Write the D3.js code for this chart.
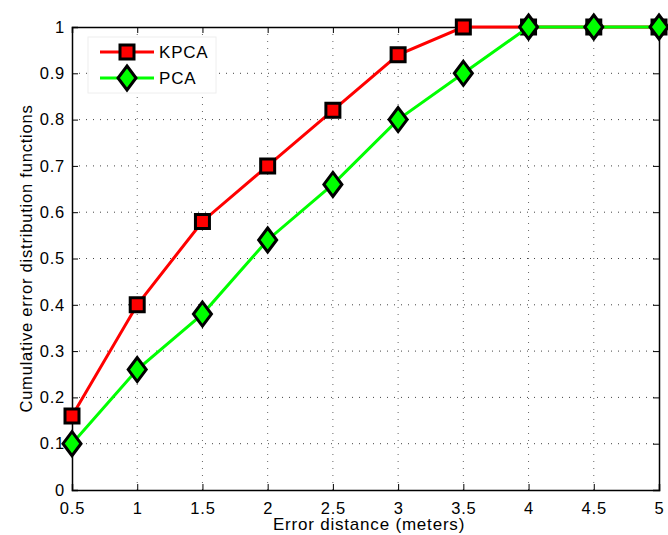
<!DOCTYPE html>
<html lang="en">
<head>
    <meta charset="UTF-8">
    <title>Cumulative error distribution</title>
    <script src="https://d3js.org/d3.v7.min.js"></script>
    <style>
        body { margin: 0; background: #fff; }
        text { font-family: "Liberation Sans", Arial, sans-serif; fill: #000; letter-spacing: 0.8px; }
    </style>
</head>
<body>
    <svg id="chart"></svg>
    <script>
        const distances = [0.5, 1, 1.5, 2, 2.5, 3, 3.5, 4, 4.5, 5];
        const kpcaValues = [0.16, 0.40, 0.58, 0.70, 0.82, 0.94, 1.0, 1.0, 1.0, 1.0];
        const pcaValues = [0.10, 0.26, 0.38, 0.54, 0.66, 0.80, 0.90, 1.0, 1.0, 1.0];
        const xTicks = [0.5, 1, 1.5, 2, 2.5, 3, 3.5, 4, 4.5, 5];
        const yTicks = [0, 0.1, 0.2, 0.3, 0.4, 0.5, 0.6, 0.7, 0.8, 0.9, 1];

        const W = 668, H = 535;
        const margin = { top: 27, right: 9, bottom: 45, left: 72 };
        const width = W - margin.left - margin.right;
        const height = H - margin.top - margin.bottom;

        const svg = d3.select('#chart').attr('width', W).attr('height', H);
        const g = svg.append('g').attr('transform', `translate(${margin.left},${margin.top})`);

        const x = d3.scaleLinear().domain([0.5, 5]).range([0, width]);
        const y = d3.scaleLinear().domain([0, 1]).range([height, 0]);

        // grid (dotted)
        g.selectAll('.vgrid').data(xTicks.slice(1, -1)).enter().append('line')
            .attr('x1', d => x(d)).attr('x2', d => x(d))
            .attr('y1', 0).attr('y2', height)
            .attr('stroke', '#666').attr('stroke-width', 1).attr('stroke-dasharray', '1,6');
        g.selectAll('.hgrid').data(yTicks.slice(1, -1)).enter().append('line')
            .attr('x1', 0).attr('x2', width)
            .attr('y1', d => y(d)).attr('y2', d => y(d))
            .attr('stroke', '#444').attr('stroke-width', 1).attr('stroke-dasharray', '1,6');

        // axes
        const xAxis = g.append('g').attr('transform', `translate(0,${height})`)
            .call(d3.axisBottom(x).tickValues(xTicks).tickSize(-6).tickPadding(12).tickFormat(d3.format('')));
        const yAxis = g.append('g')
            .call(d3.axisLeft(y).tickValues(yTicks).tickSize(-6).tickPadding(7).tickFormat(d3.format('')));
        const xAxisTop = g.append('g')
            .call(d3.axisTop(x).tickValues(xTicks).tickSize(-6).tickFormat(''));
        const yAxisRight = g.append('g').attr('transform', `translate(${width},0)`)
            .call(d3.axisRight(y).tickValues(yTicks).tickSize(-6).tickFormat(''));
        [xAxis, yAxis, xAxisTop, yAxisRight].forEach(a => {
            a.select('.domain').attr('stroke', '#000').attr('stroke-width', 1.5);
            a.selectAll('.tick line').attr('stroke', '#000');
            a.selectAll('text').style('font-size', '16.5px').style('font-family', '"Liberation Sans", Arial, sans-serif');
        });

        // axis labels
        svg.append('text')
            .attr('x', 369).attr('y', 530)
            .attr('text-anchor', 'middle').style('font-size', '17px')
            .text('Error distance (meters)');
        svg.append('text')
            .attr('transform', `translate(32,${margin.top + height / 2}) rotate(-90)`)
            .attr('text-anchor', 'middle').style('font-size', '16.5px')
            .text('Cumulative error distribution functions');

        const line = d3.line().x(d => x(d[0])).y(d => y(d[1]));
        const kpca = distances.map((d, i) => [d, kpcaValues[i]]);
        const pca = distances.map((d, i) => [d, pcaValues[i]]);

        const squarePath = 'M-7,-7L7,-7L7,7L-7,7Z';
        const diamondPath = 'M0,-12L9,0L0,12L-9,0Z';

        // KPCA
        g.append('path').datum(kpca).attr('d', line)
            .attr('fill', 'none').attr('stroke', '#ff0000').attr('stroke-width', 3);
        g.selectAll('.sq').data(kpca).enter().append('path')
            .attr('d', squarePath)
            .attr('transform', d => `translate(${x(d[0])},${y(d[1])})`)
            .attr('fill', '#ff0000').attr('stroke', '#000').attr('stroke-width', 3);

        // PCA
        g.append('path').datum(pca).attr('d', line)
            .attr('fill', 'none').attr('stroke', '#00ff00').attr('stroke-width', 3);
        g.selectAll('.dm').data(pca).enter().append('path')
            .attr('d', diamondPath)
            .attr('transform', d => `translate(${x(d[0])},${y(d[1])})`)
            .attr('fill', '#00ff00').attr('stroke', '#000').attr('stroke-width', 3);

        // legend
        const leg = svg.append('g').attr('transform', 'translate(88,37)');
        leg.append('rect').attr('width', 128).attr('height', 56)
            .attr('fill', '#fff').attr('stroke', '#eee').attr('stroke-width', 1);
        const items = [
            { name: 'KPCA', color: '#ff0000', marker: squarePath, yy: 15 },
            { name: 'PCA', color: '#00ff00', marker: diamondPath, yy: 41 }
        ];
        items.forEach(it => {
            leg.append('line').attr('x1', 12).attr('x2', 66).attr('y1', it.yy).attr('y2', it.yy)
                .attr('stroke', it.color).attr('stroke-width', 3);
            leg.append('path').attr('d', it.marker)
                .attr('transform', `translate(39,${it.yy})`)
                .attr('fill', it.color).attr('stroke', '#000').attr('stroke-width', 3);
            leg.append('text').attr('x', 71).attr('y', it.yy + 6)
                .style('font-size', '17px').text(it.name);
        });
    </script>
</body>
</html>
